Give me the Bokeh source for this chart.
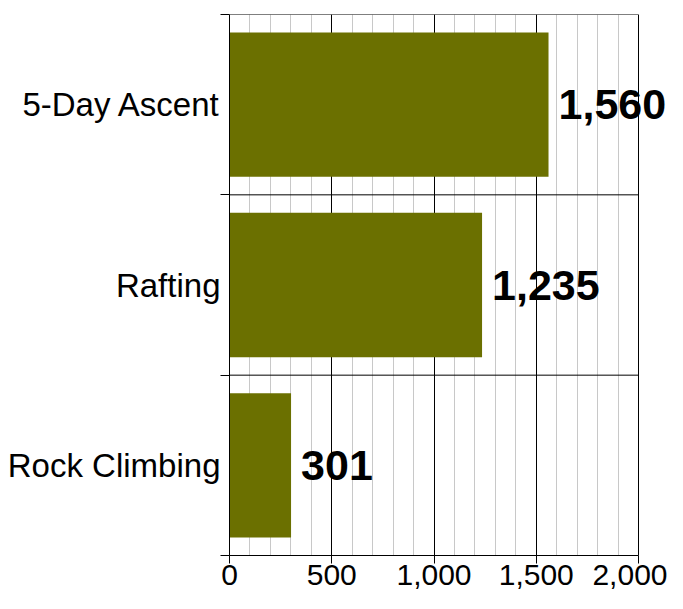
from bokeh.plotting import figure
from bokeh.models import (ColumnDataSource, FixedTicker, SingleIntervalTicker,
                          NumeralTickFormatter, Range1d)
from bokeh.core.properties import value
from bokeh.embed import file_html
from bokeh.resources import INLINE

# data (top to bottom as shown)
categories = ["5-Day Ascent", "Rafting", "Rock Climbing"]
values = [1560, 1235, 301]
x_ticks = [0, 500, 1000, 1500, 2000]

n = len(categories)
x0, x1 = x_ticks[0], x_ticks[-1]
ypos = [n - i - 0.5 for i in range(n)]          # band centres, first on top
bounds = [float(i) for i in range(n + 1)]        # band boundaries
labels = ["{:,}".format(v) for v in values]

src = ColumnDataSource(dict(y=ypos, v=values, lab=labels, cat=categories))
bsrc = ColumnDataSource(dict(y=bounds, xa=[x0] * len(bounds), xb=[x1] * len(bounds)))

# the visible chart area spans 409 px for 0..2000; frame extends further right
# (unframed) so the value labels are not clipped
W, H = 667, 593
left, top, chart_px = 229, 14, 409
frame_px = W - left
x_end = x1 * frame_px / chart_px

p = figure(width=W, height=H, output_backend="svg", toolbar_location=None,
           x_range=Range1d(x0, x_end), y_range=Range1d(0, n),
           min_border_left=left, min_border_right=0, min_border_top=top,
           min_border_bottom=38)

p.background_fill_color = "white"
p.border_fill_color = "white"
p.outline_line_color = None

# grid
p.xgrid.ticker = SingleIntervalTicker(interval=500, num_minor_ticks=5)
p.xgrid.bounds = (x0, x1)
p.xgrid.grid_line_color = "black"
p.xgrid.grid_line_width = 1
p.xgrid.minor_grid_line_color = "#c8c8c8"
p.xgrid.minor_grid_line_width = 1
p.ygrid.grid_line_color = None

p.hbar(y="y", right="v", left=0, height=0.8, source=src,
       fill_color="#6b7000", line_color=None)

# band boundary lines (including top border)
p.segment(x0="xa", x1="xb", y0="y", y1="y", source=bsrc,
          line_color="black", line_width=1)

p.text(x="v", y="y", text="lab", source=src, x_offset=10,
       text_baseline="middle", text_align="left",
       text_font=value("Liberation Sans"), text_font_style="bold",
       text_font_size="43px", text_color="black")

# x axis
p.xaxis.ticker = SingleIntervalTicker(interval=500, num_minor_ticks=5)
p.xaxis.bounds = (x0, x1)
p.xaxis.formatter = NumeralTickFormatter(format="0,0")
p.xaxis.major_label_text_font = "Liberation Sans"
p.xaxis.major_label_text_font_size = "30px"
p.xaxis.major_label_text_color = "black"
p.xaxis.major_label_standoff = 1
p.xaxis.major_tick_out = 8
p.xaxis.major_tick_in = 0
p.xaxis.minor_tick_line_color = None
p.xaxis.axis_line_color = "black"
p.xaxis.major_tick_line_color = "black"

# y axis: labels at band centres, ticks at band boundaries
p.yaxis.ticker = FixedTicker(ticks=ypos, minor_ticks=bounds)
p.yaxis.major_label_overrides = {y: c for y, c in zip(ypos, categories)}
p.yaxis.major_tick_out = 0
p.yaxis.major_tick_in = 0
p.yaxis.minor_tick_out = 9
p.yaxis.minor_tick_in = 0
p.yaxis.minor_tick_line_color = "black"
p.yaxis.axis_line_color = "black"
p.yaxis.major_label_text_font = "Liberation Sans"
p.yaxis.major_label_text_font_size = "33px"
p.yaxis.major_label_text_color = "black"
p.yaxis.major_label_standoff = 0

open("out.html", "w").write(file_html(p, INLINE))
